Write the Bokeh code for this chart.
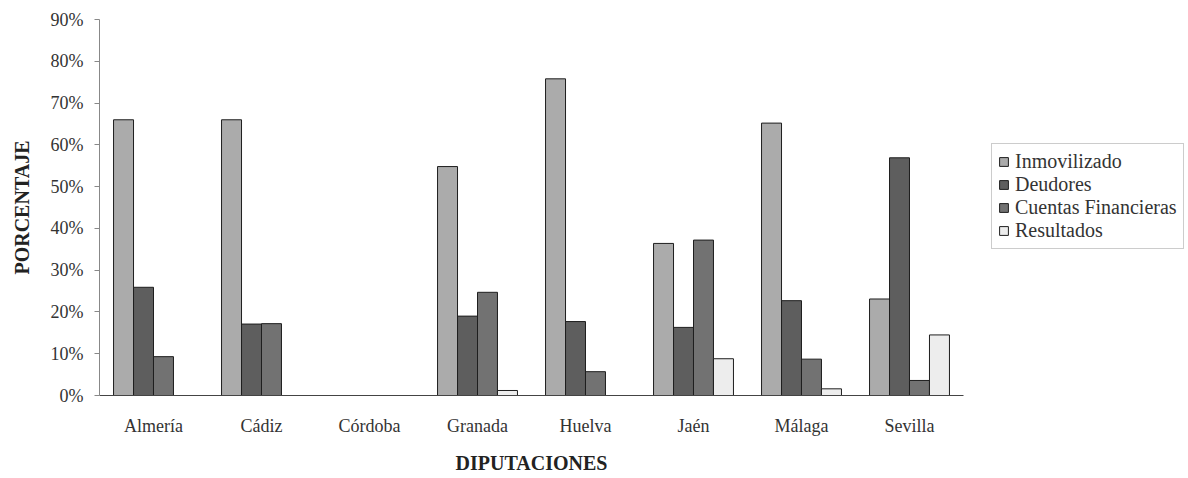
from bokeh.plotting import figure
from bokeh.models import ColumnDataSource, FactorRange, FixedTicker, PrintfTickFormatter, Legend, LegendItem
from bokeh.transform import dodge
from bokeh.embed import file_html
from bokeh.resources import INLINE

categories = ["Almería", "Cádiz", "Córdoba", "Granada", "Huelva", "Jaén", "Málaga", "Sevilla"]
inmovilizado = [66.0, 66.0, 0.0, 54.8, 75.8, 36.4, 65.2, 23.1]
deudores = [25.9, 17.1, 0.0, 19.0, 17.7, 16.3, 22.7, 56.9]
cuentas_financieras = [9.3, 17.2, 0.0, 24.7, 5.7, 37.2, 8.7, 3.6]
resultados = [0.0, 0.0, 0.0, 1.2, 0.0, 8.8, 1.6, 14.5]
series_names = ["Inmovilizado", "Deudores", "Cuentas Financieras", "Resultados"]
y_ticks = [0, 10, 20, 30, 40, 50, 60, 70, 80, 90]

src = ColumnDataSource(dict(cat=categories, inm=inmovilizado, deu=deudores,
                            cue=cuentas_financieras, res=resultados))

FONT = "Liberation Serif"

p = figure(x_range=FactorRange(*categories, range_padding=0), y_range=(0, 90),
           frame_width=864, frame_height=376, output_backend="svg", toolbar_location=None,
           min_border_left=99, min_border_top=19, min_border_bottom=70, min_border_right=215)

cols = ["inm", "deu", "cue", "res"]
fills = ["#ababab", "#5e5e5e", "#727272", "#ededed"]
offs = [-0.2775, -0.0925, 0.0925, 0.2775]
renderers = []
for c, f, o in zip(cols, fills, offs):
    r = p.vbar(x=dodge("cat", o, range=p.x_range), top=c, width=0.185, source=src,
               fill_color=f, line_color="#1e1e1e", line_width=1)
    renderers.append(r)

legend = Legend(items=[LegendItem(label=n, renderers=[r]) for n, r in zip(series_names, renderers)],
                location=(28, 146), margin=0, padding=6,
                glyph_width=11, glyph_height=11, spacing=0, label_height=20, label_standoff=6,
                label_text_font=FONT, label_text_font_size="20px", label_text_color="#333333",
                border_line_color="#9a9a9a", border_line_width=1, background_fill_alpha=0)
p.add_layout(legend, "right")

p.xgrid.grid_line_color = None
p.ygrid.grid_line_color = None
p.outline_line_color = None

p.yaxis.ticker = FixedTicker(ticks=y_ticks)
p.yaxis.formatter = PrintfTickFormatter(format="%d%%")
p.yaxis.axis_label = "PORCENTAJE"
p.xaxis.axis_label = "DIPUTACIONES"
for ax in (p.xaxis, p.yaxis):
    ax.axis_label_text_font = FONT
    ax.axis_label_text_font_style = "bold"
    ax.axis_label_text_font_size = "20px"
    ax.axis_label_text_color = "#222222"
    ax.major_label_text_font = FONT
    ax.major_label_text_font_size = "18px"
    ax.major_label_text_color = "#333333"
    ax.minor_tick_line_color = None

p.yaxis.axis_line_color = "#888888"
p.yaxis.major_tick_line_color = "#888888"
p.yaxis.major_tick_in = 0
p.yaxis.major_tick_out = 5
p.yaxis.major_label_standoff = 11
p.yaxis.axis_label_standoff = 15

p.xaxis.axis_line_color = "#444444"
p.xaxis.major_tick_line_color = None
p.xaxis.major_label_standoff = 14
p.xaxis.axis_label_standoff = 13

open("out.html", "w").write(file_html(p, INLINE))
